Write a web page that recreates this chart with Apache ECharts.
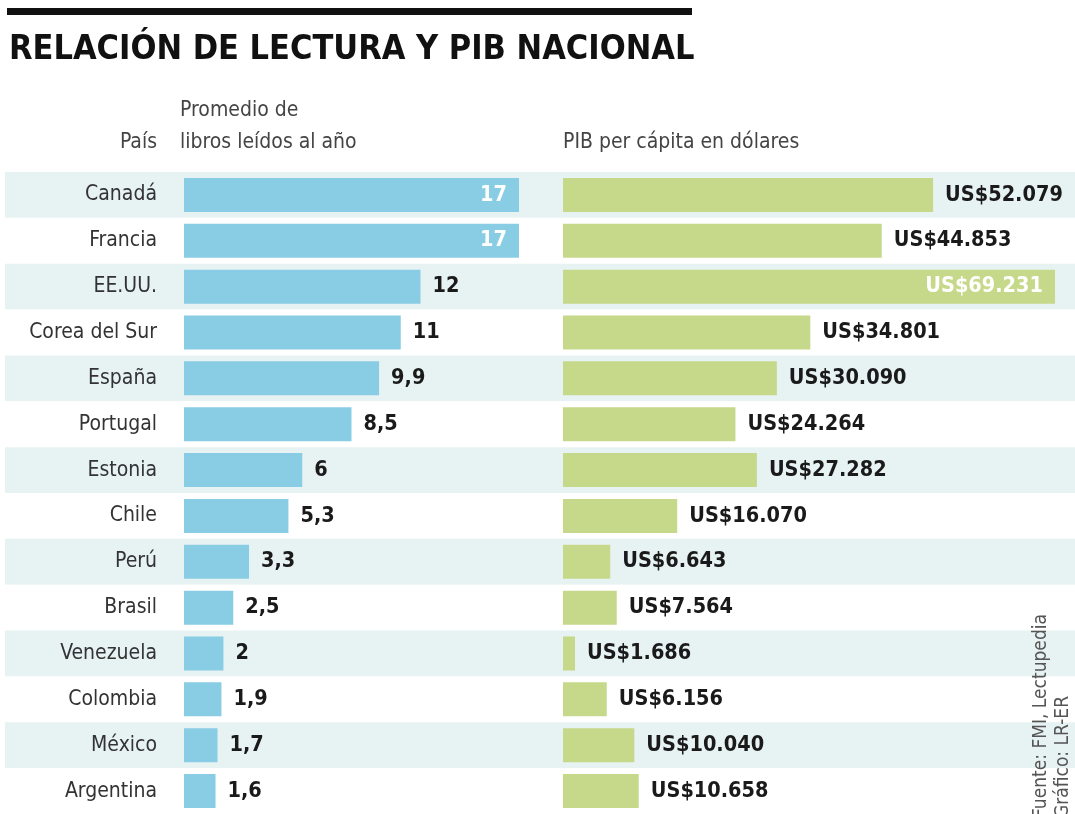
<!DOCTYPE html>
<html>
<head>
<meta charset="utf-8">
<script src="https://cdn.jsdelivr.net/npm/echarts@6/dist/echarts.min.js"></script>
<style>
  html, body { margin: 0; padding: 0; background: #fff; }
  #chart { width: 1075px; height: 814px; }
</style>
</head>
<body>
<div id="chart"></div>
<script>
// datos
var paises = ['Canadá', 'Francia', 'EE.UU.', 'Corea del Sur', 'España', 'Portugal', 'Estonia', 'Chile', 'Perú', 'Brasil', 'Venezuela', 'Colombia', 'México', 'Argentina'];
var libros = [17, 17, 12, 11, 9.9, 8.5, 6, 5.3, 3.3, 2.5, 2, 1.9, 1.7, 1.6];
var pib = [52079, 44853, 69231, 34801, 30090, 24264, 27282, 16070, 6643, 7564, 1686, 6156, 10040, 10658];

var FONT = '"DejaVu Sans Condensed", "Liberation Sans Narrow", sans-serif';
var AZUL = '#89cde5';
var VERDE = '#c6d98a';
var FRANJA = '#e7f2f2';

function fmtLibros(v) {
  return String(v).replace('.', ',');
}
function fmtPib(v) {
  return 'US$' + String(v).replace(/\B(?=(\d{3})+(?!\d))/g, '.');
}

// los valores maximos llevan la etiqueta dentro de la barra
function conEtiquetas(arr, fmt) {
  var max = Math.max.apply(null, arr);
  return arr.map(function (v) {
    var dentro = v === max;
    return {
      value: v,
      label: {
        show: true,
        position: dentro ? 'insideRight' : 'right',
        distance: 12,
        color: dentro ? '#ffffff' : '#1a1a1a',
        fontFamily: FONT,
        fontWeight: 'bold',
        fontSize: 21.5,
        formatter: function () { return fmt(v); }
      }
    };
  });
}

var top0 = 172, alto = 647;

var chart = echarts.init(document.getElementById('chart'));
chart.setOption({
  animation: false,
  backgroundColor: '#fff',
  grid: [
    { left: 5, right: 0, top: top0, height: alto },
    { left: 184, width: 335, top: top0, height: alto },
    { left: 563, width: 492, top: top0, height: alto }
  ],
  xAxis: [
    { gridIndex: 0, type: 'value', min: 0, max: 1, show: false },
    { gridIndex: 1, type: 'value', min: 0, max: 17, show: false },
    { gridIndex: 2, type: 'value', min: 0, max: 69231, show: false }
  ],
  yAxis: [
    {
      gridIndex: 0, type: 'category', data: paises, inverse: true,
      axisLine: { show: false }, axisTick: { show: false }, axisLabel: { show: false },
      splitLine: { show: false },
      splitArea: { show: true, areaStyle: { color: [FRANJA, '#ffffff'] } }
    },
    {
      gridIndex: 1, type: 'category', data: paises, inverse: true,
      axisLine: { show: false }, axisTick: { show: false },
      axisLabel: { margin: 27, color: '#333', fontSize: 21, fontFamily: FONT }
    },
    {
      gridIndex: 2, type: 'category', data: paises, inverse: true,
      axisLine: { show: false }, axisTick: { show: false }, axisLabel: { show: false }
    }
  ],
  series: [
    {
      type: 'bar', xAxisIndex: 1, yAxisIndex: 1, barWidth: 34,
      itemStyle: { color: AZUL },
      data: conEtiquetas(libros, fmtLibros)
    },
    {
      type: 'bar', xAxisIndex: 2, yAxisIndex: 2, barWidth: 34,
      itemStyle: { color: VERDE },
      data: conEtiquetas(pib, fmtPib)
    }
  ],
  graphic: [
    { type: 'rect', z: 100, shape: { x: 7, y: 8, width: 685, height: 7 }, style: { fill: '#111' } },
    {
      type: 'text', z: 100, x: 9, y: 50,
      style: { text: 'RELACIÓN DE LECTURA Y PIB NACIONAL', font: 'bold 34px ' + FONT, fill: '#111', verticalAlign: 'middle' }
    },
    { type: 'text', z: 100, x: 157, y: 143, style: { text: 'País', font: '21px ' + FONT, fill: '#444', align: 'right', verticalAlign: 'middle' } },
    { type: 'text', z: 100, x: 180, y: 111, style: { text: 'Promedio de', font: '21px ' + FONT, fill: '#444', verticalAlign: 'middle' } },
    { type: 'text', z: 100, x: 180, y: 143, style: { text: 'libros leídos al año', font: '21px ' + FONT, fill: '#444', verticalAlign: 'middle' } },
    { type: 'text', z: 100, x: 563, y: 143, style: { text: 'PIB per cápita en dólares', font: '21px ' + FONT, fill: '#444', verticalAlign: 'middle' } },
    {
      type: 'text', z: 100, x: 1041, y: 818, rotation: Math.PI / 2,
      style: { text: 'Fuente: FMI, Lectupedia', font: '19px ' + FONT, fill: '#555', verticalAlign: 'middle' }
    },
    {
      type: 'text', z: 100, x: 1063, y: 818, rotation: Math.PI / 2,
      style: { text: 'Gráfico: LR-ER', font: '19px ' + FONT, fill: '#555', verticalAlign: 'middle' }
    }
  ]
});
</script>
</body>
</html>
